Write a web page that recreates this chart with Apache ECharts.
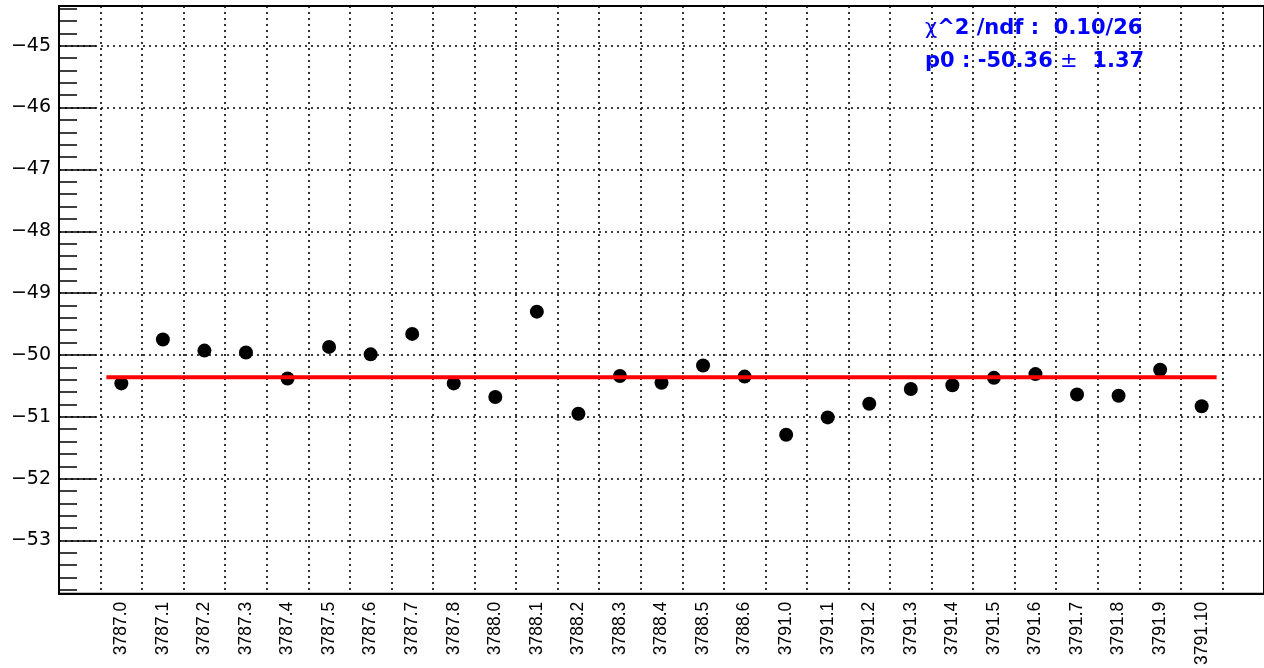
<!DOCTYPE html>
<html><head><meta charset="utf-8">
<script src="https://cdn.jsdelivr.net/npm/echarts@6/dist/echarts.min.js"></script>
<style>html,body{margin:0;padding:0;background:#fff}#c{width:1264px;height:668px}</style>
</head><body><div id="c"></div>
<script>
// ---- data ----
const categories = ['3787.0','3787.1','3787.2','3787.3','3787.4','3787.5','3787.6','3787.7','3787.8',
  '3788.0','3788.1','3788.2','3788.3','3788.4','3788.5','3788.6',
  '3791.0','3791.1','3791.2','3791.3','3791.4','3791.5','3791.6','3791.7','3791.8','3791.9','3791.10'];
const values = [-50.46,-49.75,-49.93,-49.96,-50.38,-49.87,-49.99,-49.66,-50.46,
  -50.68,-49.30,-50.95,-50.34,-50.45,-50.17,-50.35,
  -51.29,-51.01,-50.79,-50.55,-50.49,-50.37,-50.31,-50.64,-50.66,-50.24,-50.83];
const yTickValues = [-53,-52,-51,-50,-49,-48,-47,-46,-45];
const yRange = [-53.861, -44.358];
const fitValue = -50.36;
const fitRange = [-0.36, 26.36];
const statLine1 = ['χ', '^2 /ndf :  0.10/26'];
const statLine2 = ['p0 : -50.36 ', '±', '  1.37'];

// ---- build ----
const axisCats = [''].concat(categories, ['']);
const minorTicks = [];
for (let k = Math.ceil(yRange[0] * 5); k <= Math.floor(yRange[1] * 5); k++) minorTicks.push(k / 5);
const dotted = { color: '#000', type: [2, 4], width: 1.6 };
const chart = echarts.init(document.getElementById('c'));
const richStyles = {
  s: { fontFamily: 'DejaVu Sans', fontSize: 21, fill: '#0000ff', fontWeight: 'normal' },
  b: { fontFamily: 'DejaVu Sans', fontSize: 21, fill: '#0000ff', fontWeight: 'bold' }
};
chart.setOption({
  animation: false,
  backgroundColor: '#fff',
  grid: { left: 59, top: 6, width: 1209.4, height: 588, show: true, borderColor: '#000', borderWidth: 2 },
  xAxis: [
    { type: 'category', data: axisCats, boundaryGap: true,
      axisLine: { onZero: false, lineStyle: { color: '#000', width: 2 } },
      axisTick: { inside: true, length: 19, interval: 0, lineStyle: { color: '#000', width: 1.5 } },
      axisLabel: { interval: 0, rotate: 90, fontSize: 17.5, fontFamily: 'Liberation Sans', color: '#000', margin: 8 },
      splitLine: { show: true, interval: 0, lineStyle: dotted } },
    { type: 'value', min: -1.5, max: 27.5, show: false, axisLine: { onZero: false } }
  ],
  yAxis: [
    { type: 'value', position: 'left', min: yRange[0], max: yRange[1], splitNumber: 10,
      axisLine: { show: true, onZero: false, lineStyle: { color: '#000', width: 2 } },
      axisTick: { show: true, inside: true, length: 37, customValues: yTickValues, lineStyle: { color: '#000', width: 1.5 } },
      axisLabel: { customValues: yTickValues, formatter: v => String(v).replace('-', '\u2212'),
        fontSize: 19, fontFamily: 'DejaVu Sans', color: '#000', margin: 8 },
      splitLine: { show: true, lineStyle: dotted } },
    { type: 'value', position: 'left', offset: 0, min: yRange[0], max: yRange[1],
      axisLine: { show: false, onZero: false },
      axisTick: { show: true, inside: true, length: 18, customValues: minorTicks, lineStyle: { color: '#000', width: 1.5 } },
      axisLabel: { show: false }, splitLine: { show: false } }
  ],
  series: [
    { type: 'scatter', xAxisIndex: 0, yAxisIndex: 0, symbolSize: 14, itemStyle: { color: '#000', opacity: 1 },
      data: categories.map((c, i) => [c, values[i]]), z: 2 },
    { type: 'line', xAxisIndex: 1, yAxisIndex: 0, symbol: 'none', z: 3,
      lineStyle: { color: '#ff0000', width: 4 },
      data: [[fitRange[0], fitValue], [fitRange[1], fitValue]] }
  ],
  graphic: [
    { type: 'text', x: 925, y: 29, z: 10, style: {
      text: '{s|' + statLine1[0] + '}{b|' + statLine1[1] + '}', verticalAlign: 'middle', rich: richStyles } },
    { type: 'text', x: 925, y: 62, z: 10, style: {
      text: '{b|' + statLine2[0] + '}{s|' + statLine2[1] + '}{b|' + statLine2[2] + '}', verticalAlign: 'middle', rich: richStyles } }
  ]
});
</script></body></html>
